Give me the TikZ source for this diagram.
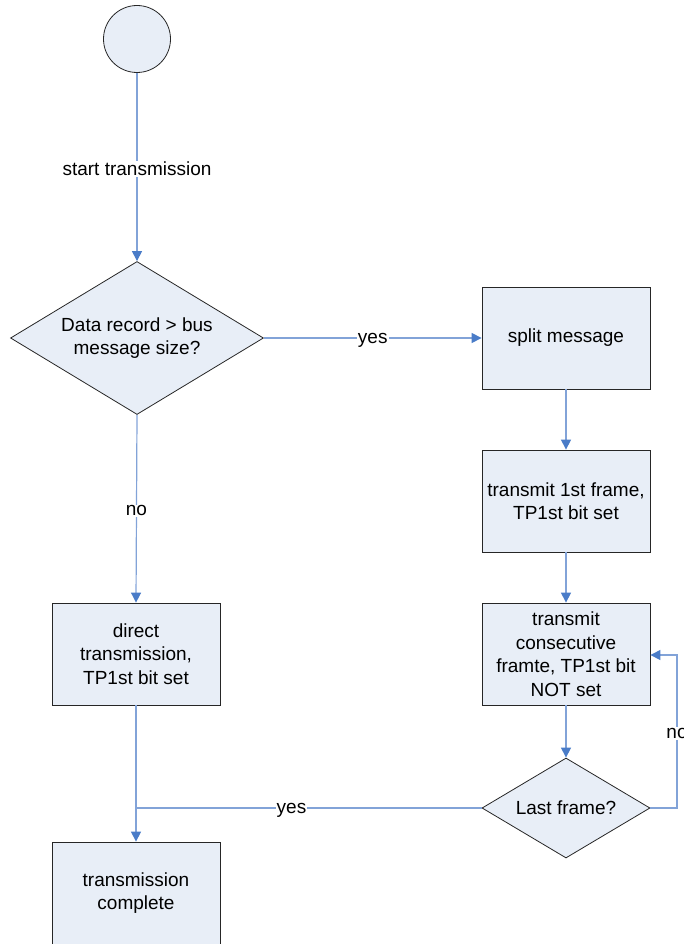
\documentclass[tikz,border=0pt]{standalone}
\usepackage{fontspec}
\setmainfont{Liberation Sans}
\usetikzlibrary{shapes.geometric,arrows.meta}
\definecolor{boxfill}{RGB}{232,238,247}
\definecolor{linkline}{RGB}{130,163,216}
\definecolor{linktip}{RGB}{74,124,200}
\tikzset{
  every node/.style={font=\fontsize{19}{23.5}\selectfont},
  stepbox/.style={draw=black!85, fill=boxfill, line width=0.8pt, minimum width=168pt, minimum height=102pt, align=center, inner sep=2pt},
  decision/.style={diamond, draw=black!85, fill=boxfill, line width=0.8pt, align=center, inner sep=0pt},
  startnode/.style={circle, draw=black!85, fill=boxfill, line width=0.8pt, minimum size=67pt, inner sep=0pt},
  link/.style={draw=linkline, line width=1.2pt, -{Triangle[length=10pt, width=10pt, color=linktip]}},
  plainlink/.style={draw=linkline, line width=1.2pt},
  lbl/.style={fill=white, inner sep=1pt, yshift=-2pt}
}
\begin{document}
\begin{tikzpicture}[x=1pt, y=-1pt]
\useasboundingbox (0,0) rectangle (684,944);
\node[startnode] (start) at (137,39) {};
\node[decision, minimum width=253pt, minimum height=153pt, aspect=1.65] (size) at (137,338) {Data record > bus\\message size?};
\node[stepbox] (split) at (566,338) {split message};
\node[stepbox] (first) at (566,501) {transmit 1st frame,\\TP1st bit set};
\node[stepbox] (cons) at (566,654) {transmit\\consecutive\\framte, TP1st bit\\NOT set};
\node[decision, minimum width=168pt, minimum height=100pt, aspect=1.68] (last) at (566,808) {Last frame?};
\node[stepbox] (direct) at (136,654) {direct\\transmission,\\TP1st bit set};
\node[stepbox] (done) at (136,893) {transmission\\complete};
\coordinate (join) at (136,808);
\coordinate (loopA) at (677,808);
\coordinate (loopB) at (677,655);

\draw[link] (start) -- node[lbl] {start transmission} (size);
\draw[link] (size.east) -- node[lbl] {yes} (split.west);
\draw[link] (size.south) -- node[lbl] {no} (direct.north);
\draw[link] (split) -- (first);
\draw[link] (first) -- (cons);
\draw[link] (cons) -- (last);
\draw[plainlink] (last.west) -- node[lbl, pos=0.55] {yes} (join);
\draw[link] (last.east) -- (loopA) -- node[lbl] {no} (loopB) -- (cons.east |- loopB);
\draw[link] (direct) -- (done);
\end{tikzpicture}
\end{document}
